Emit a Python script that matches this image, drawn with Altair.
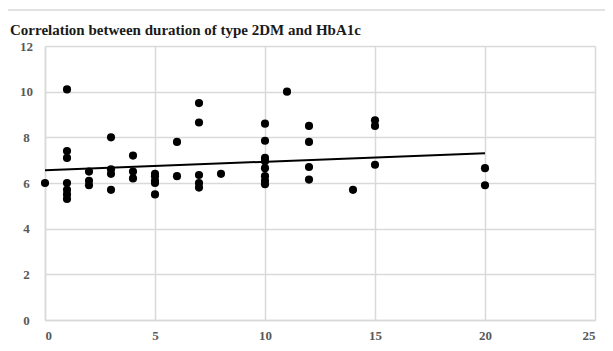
import altair as alt
import pandas as pd

title_text = "Correlation between duration of type 2DM and HbA1c"

duration = [0,
            1, 1, 1, 1, 1, 1, 1,
            2, 2, 2,
            3, 3, 3, 3,
            4, 4, 4,
            5, 5, 5, 5, 5,
            6, 6,
            7, 7, 7, 7, 7,
            8,
            10, 10, 10, 10, 10, 10, 10, 10,
            11,
            12, 12, 12, 12,
            14,
            15, 15, 15,
            20, 20]
hba1c = [6.0,
         10.1, 7.4, 7.1, 6.0, 5.7, 5.5, 5.3,
         6.5, 6.1, 5.9,
         8.0, 6.6, 6.4, 5.7,
         7.2, 6.5, 6.2,
         6.4, 6.3, 6.1, 6.0, 5.5,
         7.8, 6.3,
         9.5, 8.65, 6.35, 6.0, 5.8,
         6.4,
         8.6, 7.85, 7.1, 6.95, 6.65, 6.3, 6.1, 5.95,
         10.0,
         8.5, 7.8, 6.7, 6.15,
         5.7,
         8.75, 8.5, 6.8,
         6.65, 5.9]

# trend line
trend_x = [0, 20]
trend_y = [6.56, 7.30]

x_ticks = [0, 5, 10, 15, 20, 25]
y_ticks = [0, 2, 4, 6, 8, 10, 12]

df = pd.DataFrame({"duration": duration, "hba1c": hba1c})
df_trend = pd.DataFrame({"duration": trend_x, "hba1c": trend_y})

grid_col = "#d9d9d9"
label_col = "#595959"
serif = "Liberation Serif"

xenc = alt.X("duration:Q", scale=alt.Scale(domain=[0, 25], nice=False),
             axis=alt.Axis(values=x_ticks, title=None, grid=True, gridColor=grid_col,
                           gridWidth=1.5, domainColor=grid_col, domainWidth=1.5,
                           ticks=False, labelFont=serif, labelFontWeight="bold",
                           labelFontSize=13, labelColor=label_col, labelPadding=9))
yenc = alt.Y("hba1c:Q", scale=alt.Scale(domain=[0, 12], nice=False),
             axis=alt.Axis(values=y_ticks, title=None, grid=True, gridColor=grid_col,
                           gridWidth=1.5, domainColor=grid_col, domainWidth=1.5,
                           ticks=False, labelFont=serif, labelFontWeight="bold",
                           labelFontSize=13, labelColor=label_col, labelPadding=19,
                           labelAlign="center"))

border = alt.Chart(pd.DataFrame({"a": [0]})).mark_rect(
    fill=None, stroke="#d9d9d9", strokeWidth=1.5
).encode(x=alt.value(-38), x2=alt.value(580), y=alt.value(-36), y2=alt.value(320))

title = alt.Chart(pd.DataFrame({"t": [title_text]})).mark_text(
    align="left", baseline="alphabetic", font=serif, fontSize=15,
    fontWeight="bold", color="#1a1a1a"
).encode(text="t:N", x=alt.value(-35), y=alt.value(-11))

points = alt.Chart(df).mark_circle(size=66, color="black", opacity=1).encode(x=xenc, y=yenc)

trend = alt.Chart(df_trend).mark_line(color="black", strokeWidth=2).encode(
    x="duration:Q", y="hba1c:Q")

chart = alt.layer(border, points, trend, title).properties(
    width=550, height=274,
    autosize=alt.AutoSizeParams(type="none"),
    padding={"left": 37, "top": 38, "right": 10, "bottom": 30},
).configure_view(stroke=None)

chart.save("out.html", embed_options={"renderer": "svg", "actions": False})
